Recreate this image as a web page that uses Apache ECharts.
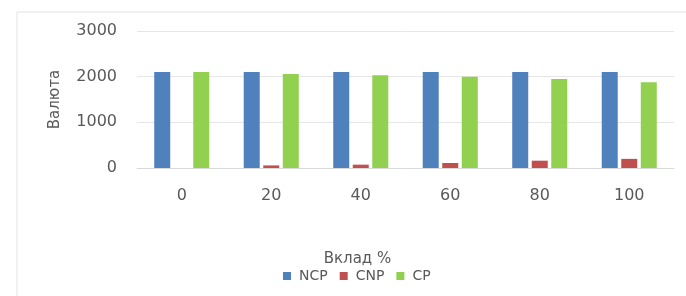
<!DOCTYPE html>
<html>
<head>
<meta charset="utf-8">
<script src="https://cdn.jsdelivr.net/npm/echarts@6/dist/echarts.min.js"></script>
<style>
  html, body { margin: 0; padding: 0; background: #fff; }
  #chart { width: 686px; height: 296px; }
</style>
</head>
<body>
<div id="chart"></div>
<script>
// x categories (Вклад %)
var categories = ['0', '20', '40', '60', '80', '100'];
// series values
var ncp = [2100, 2100, 2100, 2100, 2100, 2100];
var cnp = [0, 57, 73, 110, 160, 200];
var cp = [2100, 2060, 2030, 2000, 1950, 1880];
var yTicks = [0, 1000, 2000, 3000];

var textColor = '#595959';
var font = 'DejaVu Sans';

var chart = echarts.init(document.getElementById('chart'));

chart.setOption({
  animation: false,
  backgroundColor: '#fff',
  textStyle: { fontFamily: font },
  graphic: [{
    type: 'rect',
    shape: { x: 17, y: 12, width: 720, height: 320 },
    style: { fill: 'none', stroke: '#e3e3e3', lineWidth: 1 },
    silent: true
  }],
  grid: {
    left: 137,
    right: 12,
    top: 31,
    bottom: 128
  },
  legend: {
    data: ['NCP', 'CNP', 'CP'],
    bottom: 8,
    left: 278,
    itemWidth: 8,
    itemHeight: 8,
    itemGap: 12,
    icon: 'rect',
    textStyle: { color: textColor, fontSize: 14, fontFamily: font, padding: [0, 0, 0, 3] }
  },
  xAxis: {
    type: 'category',
    data: categories,
    name: 'Вклад %',
    nameLocation: 'middle',
    nameGap: 84,
    nameTextStyle: { color: textColor, fontSize: 15, fontFamily: font, padding: [0, 96, 0, 0] },
    axisLine: { show: true, lineStyle: { color: '#d9d9d9' } },
    axisTick: { show: false },
    axisLabel: { color: textColor, fontSize: 16, margin: 20, fontFamily: font }
  },
  yAxis: {
    type: 'value',
    min: yTicks[0],
    max: yTicks[yTicks.length - 1],
    interval: 1000,
    name: 'Валюта',
    nameLocation: 'middle',
    nameGap: 74,
    nameTextStyle: { color: textColor, fontSize: 15, fontFamily: font },
    axisLine: { show: false },
    axisTick: { show: false },
    axisLabel: {
      color: textColor, fontSize: 16, margin: 20, fontFamily: font,
      formatter: function (v) { return String(v); }
    },
    splitLine: { lineStyle: { color: '#e6e6e6' } }
  },
  series: [
    { name: 'NCP', type: 'bar', data: ncp, barWidth: 16, barGap: '22%', itemStyle: { color: '#4f81bd' } },
    { name: 'CNP', type: 'bar', data: cnp, barWidth: 16, barGap: '22%', itemStyle: { color: '#c0504d' } },
    { name: 'CP', type: 'bar', data: cp, barWidth: 16, barGap: '22%', itemStyle: { color: '#92d050' } }
  ]
});
</script>
</body>
</html>
